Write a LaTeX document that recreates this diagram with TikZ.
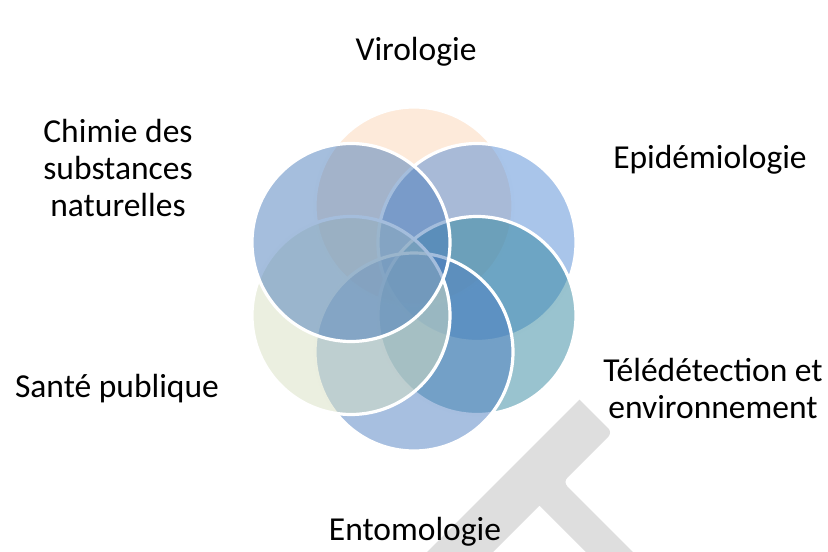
\documentclass[tikz,border=0pt]{standalone}
\usepackage{fontspec}
\setmainfont{Carlito}
\usepackage{xcolor}

\definecolor{peche}{HTML}{FBD5B5}
\definecolor{bleuA}{HTML}{538BD5}
\definecolor{sarcelle}{HTML}{33879F}
\definecolor{bleuB}{HTML}{4F7FC1}
\definecolor{olive}{HTML}{D7DFC1}
\definecolor{bleuC}{HTML}{4B7DBB}
\definecolor{filigrane}{HTML}{DEDEDE}

\begin{document}
\begin{tikzpicture}[x=1pt, y=-1pt,
    cercle/.style={circle, minimum size=198pt, inner sep=0pt, draw=white, line width=3.2pt, fill opacity=0.5},
    etiquette/.style={align=center, font=\fontsize{33.5}{37}\selectfont}]
    \useasboundingbox (0, 0) rectangle (828, 552);
    \clip (0, 0) rectangle (828, 552);

    % Filigrane
    \fill[filigrane, rounded corners=6pt] (579.5, 399.5) -- (612.5, 432.5) -- (563, 482)
        [sharp corners] -- (690.5, 609.5) -- (667, 633) -- (539.5, 505.5) -- (422.5, 622.5) -- (389.5, 589.5) -- cycle;

    % Cercles
    \node[cercle, fill=peche] (cViro) at (414, 206) {};
    \node[cercle, fill=bleuA] (cEpid) at (477, 242.5) {};
    \node[cercle, fill=sarcelle] (cTele) at (477, 315.5) {};
    \node[cercle, fill=bleuB] (cEnto) at (414, 352) {};
    \node[cercle, fill=olive] (cSante) at (351, 315.5) {};
    \node[cercle, fill=bleuC] (cChim) at (351, 242.5) {};

    % Labels
    \node[etiquette] (viro) at (416, 52) {Virologie};
    \node[etiquette] (epid) at (710, 160) {Epidémiologie};
    \node[etiquette] (tele) at (713, 388) {Télédétection et\\environnement};
    \node[etiquette] (ento) at (415, 532) {Entomologie};
    \node[etiquette] (sante) at (117, 389) {Santé publique};
    \node[etiquette] (chim) at (118, 168) {Chimie des\\substances\\naturelles};

\end{tikzpicture}
\end{document}
